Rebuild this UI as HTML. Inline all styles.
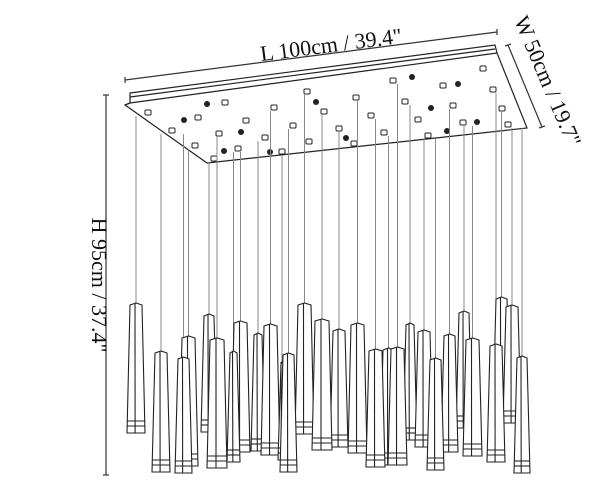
<!DOCTYPE html>
<html><head><meta charset="utf-8"><style>
html,body{margin:0;padding:0;background:#fff;width:600px;height:490px;overflow:hidden}
svg text{font-family:"Liberation Serif",serif;fill:#111}
</style></head><body>
<svg id="s" width="600" height="490" viewBox="0 0 600 490" xmlns="http://www.w3.org/2000/svg">
<g stroke="#333" stroke-width="1.2" fill="none">
<line x1="125" y1="80" x2="497" y2="32"/>
<line x1="125" y1="77" x2="125" y2="83"/><line x1="497" y1="29" x2="497" y2="35"/>
<line x1="508" y1="45" x2="542" y2="127"/>
<line x1="505" y1="46" x2="511" y2="44"/><line x1="539" y1="128" x2="545" y2="126"/>
<line x1="106" y1="95" x2="106" y2="475"/>
<line x1="103" y1="95" x2="109" y2="95"/><line x1="103" y1="475" x2="109" y2="475"/>
</g>
<text x="332" y="52" font-size="22" text-anchor="middle" transform="rotate(-7.4 332 52)">L 100cm / 39.4"</text>
<text x="541" y="84" font-size="22" text-anchor="middle" transform="rotate(67 541 84)">W 50cm / 19.7"</text>
<text x="92" y="285" font-size="22" text-anchor="middle" transform="rotate(90 92 285)">H 95cm / 37.4"</text>
<g stroke="#222" stroke-width="1.2" fill="#fff">
<polygon points="130,93 495,45 497,53 527,128 207,163 125,105 130,103"/>
<line x1="130" y1="97" x2="495" y2="49"/>
<line x1="130" y1="103" x2="497" y2="53" />
<line x1="125" y1="105" x2="130" y2="103"/>
</g>
<g id="plate"></g>
<g id="pend"></g>
</svg>
<script>
var NS="http://www.w3.org/2000/svg";
function el(p,t,a){var e=document.createElementNS(NS,t);for(var k in a)e.setAttribute(k,a[k]);p.appendChild(e);return e;}
var plate=document.getElementById('plate'),pend=document.getElementById('pend');
var sq=[[148,113],[172,131],[198,118],[195,146],[225,103],[219,134],[246,121],[238,149],[214,159],[265,138],[274,108],[282,152],[293,126],[307,92],[309,142],[324,112],[339,129],[354,144],[356,98],[371,116],[384,133],[393,81],[405,102],[418,120],[428,136],[443,86],[453,106],[463,123],[483,69],[493,90],[502,109],[508,125]];
var dots=[[207,104],[184,120],[241,132],[224,151],[270,152],[316,102],[346,138],[412,77],[431,108],[458,84],[447,131],[477,122]];
var P=[[127,145,303,433],[152,170,351,472],[175,192,357,473],[179,198,336,466],[201,217,314,432],[207,227,338,468],[227,240,351,462],[231,250,321,452],[251,265,333,451],[261,280,324,455],[278,286,362,460],[280,297,353,472],[295,314,303,434],[312,332,319,450],[330,348,329,447],[348,367,323,453],[366,385,349,467],[380,397,348,465],[388,407,347,465],[403,417,323,440],[415,433,330,447],[427,444,358,470],[441,458,334,452],[456,472,311,428],[463,482,338,456],[487,505,344,462],[493,510,297,415],[503,521,305,423],[514,530,356,473]];
P.forEach(function(p){var cx=(p[0]+p[1])/2;var best=null,bd=1e9;sq.forEach(function(s){var d=Math.abs(s[0]-cx);if(d<bd){bd=d;best=s;}});
el(pend,'line',{x1:cx,y1:best[1]+3,x2:cx,y2:p[2],stroke:'#888','stroke-width':1});});
sq.forEach(function(s){el(plate,'rect',{x:s[0]-3,y:s[1]-3,width:6,height:5,rx:1,fill:'#fff',stroke:'#222','stroke-width':1});});
dots.forEach(function(d){el(plate,'circle',{cx:d[0],cy:d[1],r:3,fill:'#222'});});
P.slice().sort(function(a,b){return a[3]-b[3];}).forEach(function(p){
var x1=p[0],x2=p[1],t=p[2],b=p[3],cx=(x1+x2)/2;
var g=el(pend,'g',{stroke:'#222','stroke-width':1.1,fill:'#fff'});
el(g,'polygon',{points:(x1+3)+','+(t+2)+' '+(cx)+','+t+' '+(x2-3)+','+(t+2)+' '+x2+','+b+' '+x1+','+b});
el(g,'line',{x1:cx-1,y1:t,x2:x1+(x2-x1)*0.45,y2:b});
el(g,'line',{x1:x1,y1:b-12,x2:x2,y2:b-12});
el(g,'line',{x1:x1,y1:b-7,x2:x2,y2:b-7});
});
</script>
</body></html>
